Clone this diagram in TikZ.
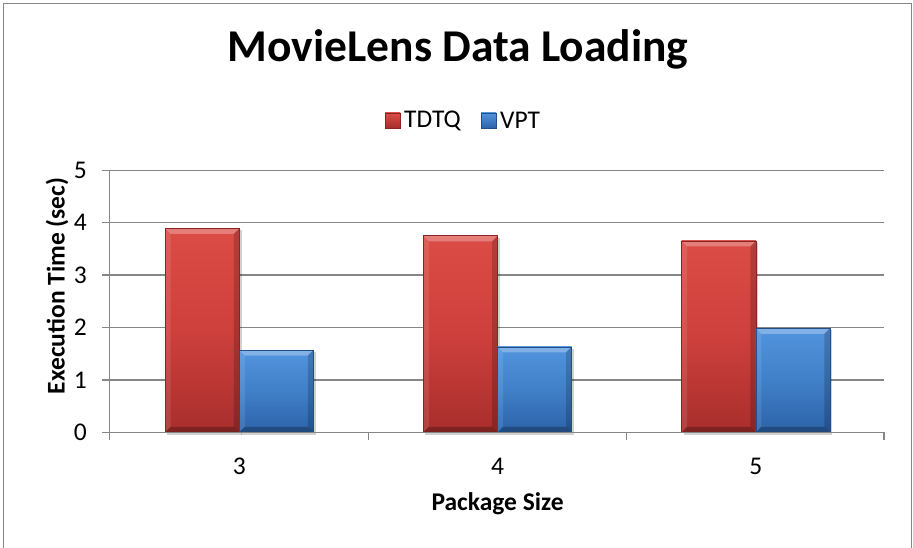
\documentclass[tikz,border=0pt]{standalone}
\usepackage{fontspec}
\setmainfont{Carlito}
\usetikzlibrary{calc}
\definecolor{gridgray}{RGB}{134,134,134}
\definecolor{redmid}{RGB}{206,64,60}
\definecolor{redtop}{RGB}{220,76,70}
\definecolor{redbot}{RGB}{168,46,44}
\definecolor{bluemid}{RGB}{64,128,200}
\definecolor{bluetop}{RGB}{82,148,222}
\definecolor{bluebot}{RGB}{44,98,168}
\tikzset{
  gridline/.style={draw=gridgray,line width=1.5pt},
  ticklabel/.style={font=\fontsize{25.5}{28}\selectfont,inner sep=0pt},
  axistitle/.style={font=\bfseries\fontsize{25.5}{28}\selectfont,inner sep=0pt},
}
% one bevelled bar: left edge, width, top (y of value), base colour prefix
\newcommand\chartbar[4]{%
  \pgfmathsetmacro\xl{#1}\pgfmathsetmacro\xr{#1+#2}%
  \pgfmathsetmacro\yt{#3}\def\yb{432.3}\def\bv{5.5}%
  \fill[black,opacity=0.18] (\xl+2,\yt+2) rectangle (\xr+2.5,\yb+2.5);
  \shade[top color=#4top,bottom color=#4bot,middle color=#4mid] (\xl,\yt) rectangle (\xr,\yb);
  % top bevel
  \fill[white,opacity=0.28] (\xl,\yt) -- (\xr,\yt) -- (\xr-\bv,\yt+\bv) -- (\xl+\bv,\yt+\bv) -- cycle;
  % left bevel
  \fill[white,opacity=0.10] (\xl,\yt) -- (\xl+\bv,\yt+\bv) -- (\xl+\bv,\yb-\bv) -- (\xl,\yb) -- cycle;
  % right bevel
  \fill[black,opacity=0.18] (\xr,\yt) -- (\xr-\bv,\yt+\bv) -- (\xr-\bv,\yb-\bv) -- (\xr,\yb) -- cycle;
  % bottom bevel
  \fill[black,opacity=0.25] (\xl,\yb) -- (\xl+\bv,\yb-\bv) -- (\xr-\bv,\yb-\bv) -- (\xr,\yb) -- cycle;
  \draw[#4bot!80!black,line width=0.6pt] (\xl,\yt) rectangle (\xr,\yb);
}
\begin{document}
\begin{tikzpicture}[x=1pt,y=-1pt]
\useasboundingbox (0,0) rectangle (913,548);
\fill[white] (0,0) rectangle (913,548);
% outer frame
\draw[gridgray,line width=1.8pt] (3.5,3.5) rectangle (911.5,550);

% title
\node[inner sep=0pt,font=\bfseries\fontsize{45.5}{50}\selectfont] (title) at (458,49) {MovieLens Data Loading};

% legend
\shade[top color=redtop,bottom color=redbot] (385,113) rectangle (400,128);
\draw[redbot!80!black,line width=0.5pt] (385,113) rectangle (400,128);
\node[ticklabel,anchor=west] (legA) at (404,120.5) {TDTQ};
\shade[top color=bluetop,bottom color=bluebot] (481,113) rectangle (496,128);
\draw[bluebot!80!black,line width=0.5pt] (481,113) rectangle (496,128);
\node[ticklabel,anchor=west] (legB) at (500,120.5) {VPT};

% horizontal grid lines and y ticks
\foreach \v in {1,...,5}{
  \draw[gridline] (102,{432.3-52.4*\v}) -- (884,{432.3-52.4*\v});
}
\foreach \v in {0,...,5}{
  \node[ticklabel,anchor=east] (yl\v) at (87,{432.3-52.4*\v}) {\v};
}

% bars
\chartbar{165}{74.3}{228.3}{red}
\chartbar{239.3}{74}{350}{blue}
\chartbar{423.3}{74.3}{235.8}{red}
\chartbar{497.6}{74}{346.8}{blue}
\chartbar{681.6}{74.3}{241}{red}
\chartbar{755.9}{74}{328.3}{blue}

% axes
\draw[gridline] (109.7,170.3) -- (109.7,440);
\draw[gridline] (102,432.3) -- (884,432.3);
\foreach \x in {368.3,626.6,884}{
  \draw[gridline] (\x,432.3) -- (\x,440);
}

% category labels
\node[ticklabel] (c3) at (239.3,466) {3};
\node[ticklabel] (c4) at (497.6,466) {4};
\node[ticklabel] (c5) at (755.9,466) {5};

% axis titles
\node[axistitle] (xt) at (497.6,504) {Package Size};
\node[axistitle,rotate=90] (yt) at (57,286) {Execution Time (sec)};
\end{tikzpicture}
\end{document}
